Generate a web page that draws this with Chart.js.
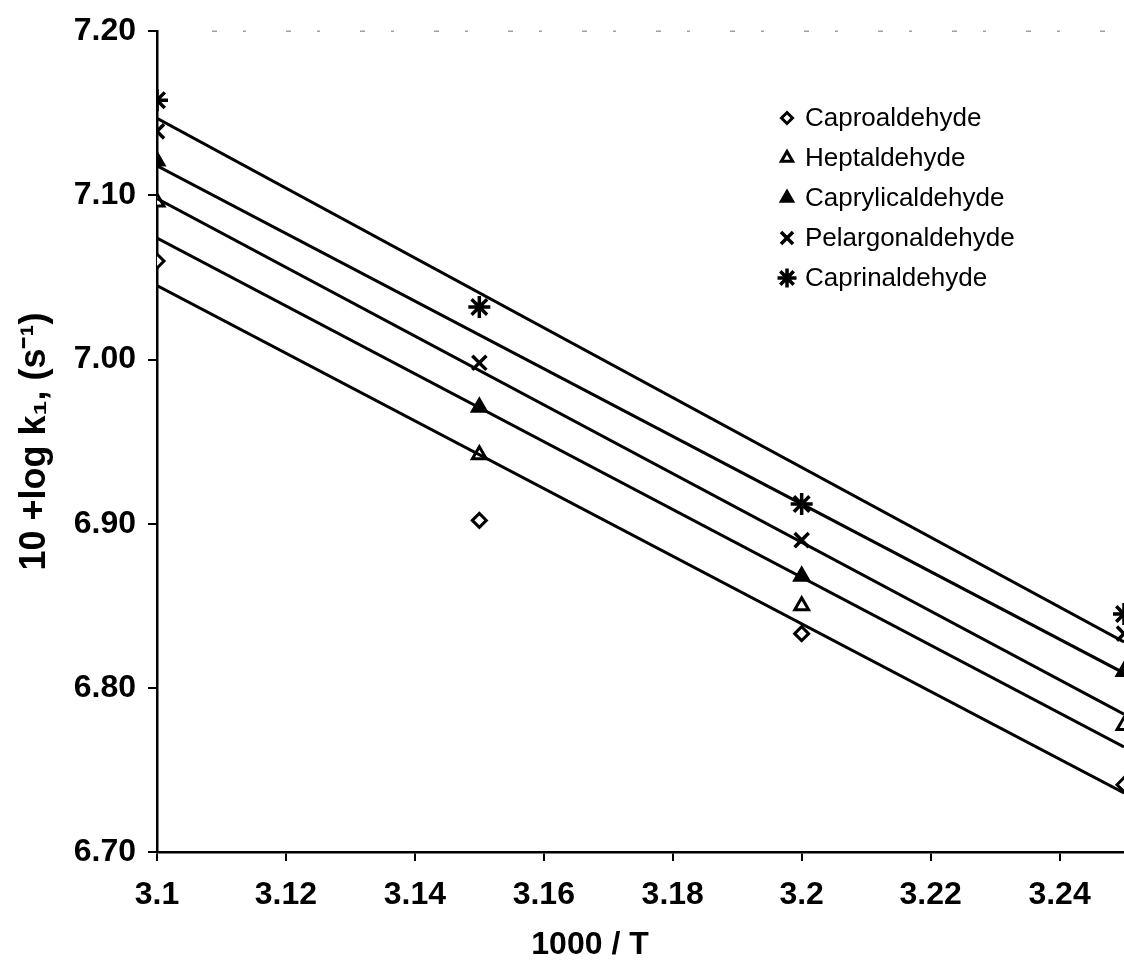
<!DOCTYPE html>
<html>
<head>
<meta charset="utf-8">
<script src="https://cdn.jsdelivr.net/npm/chart.js@4/dist/chart.umd.min.js"></script>
<style>
  html, body { margin: 0; padding: 0; background: #ffffff; }
  #wrap { position: relative; width: 1124px; height: 974px; }
  canvas { display: block; }
</style>
</head>
<body>
<div id="wrap"><canvas id="c" width="1124" height="974"></canvas></div>
<script>
// ---- data ----
const xValues = [3.10, 3.15, 3.20, 3.25];
const seriesNames = ["Caproaldehyde", "Heptaldehyde", "Caprylicaldehyde", "Pelargonaldehyde", "Caprinaldehyde"];
const caproaldehyde    = [7.060, 6.902, 6.833, 6.741];
const heptaldehyde     = [7.096, 6.942, 6.850, 6.777];
const caprylicaldehyde = [7.121, 6.971, 6.868, 6.810];
const pelargonaldehyde = [7.139, 6.998, 6.890, 6.833];
const caprinaldehyde   = [7.158, 7.032, 6.912, 6.845];

// straight fitted lines (end values read at 1000/T = 3.10 and 3.25)
const fitX = [3.10, 3.25];
const caproFit    = [7.045, 6.736];
const heptFit     = [7.074, 6.764];
const caprylFit   = [7.098, 6.784];
const pelargFit   = [7.118, 6.809];
const caprinFit   = [7.147, 6.828];

const xTicks = [3.10, 3.12, 3.14, 3.16, 3.18, 3.20, 3.22, 3.24];
const xTickLabels = ["3.1", "3.12", "3.14", "3.16", "3.18", "3.2", "3.22", "3.24"];
const yTicks = [6.70, 6.80, 6.90, 7.00, 7.10, 7.20];
const yTickLabels = ["6.70", "6.80", "6.90", "7.00", "7.10", "7.20"];
const xTitle = "1000 / T";
const yTitle = "10 +log k\u2081, (s\u207B\u00B9)";

// ---- styles ----
const FONT = "'Liberation Sans', Arial, Helvetica, sans-serif";
const markerStyles = [
  { pointStyle: 'rectRot',  radius: 7,  fill: '#ffffff', bw: 3 },
  { pointStyle: 'triangle', radius: 8,  fill: '#ffffff', bw: 3 },
  { pointStyle: 'triangle', radius: 8,  fill: '#000000', bw: 3 },
  { pointStyle: 'crossRot', radius: 10, fill: '#000000', bw: 3.5 },
  { pointStyle: 'star',     radius: 11, fill: '#000000', bw: 3.5 }
];
const seriesValues = [caproaldehyde, heptaldehyde, caprylicaldehyde, pelargonaldehyde, caprinaldehyde];
const fitValues = [caproFit, heptFit, caprylFit, pelargFit, caprinFit];

const datasets = [];
fitValues.forEach((vals, i) => {
  datasets.push({
    label: seriesNames[i] + ' fit',
    data: fitX.map((x, k) => ({ x: x, y: vals[k] })),
    showLine: true,
    borderColor: '#000000',
    borderWidth: 3,
    pointRadius: 0,
    fill: false
  });
});
seriesValues.forEach((vals, i) => {
  const m = markerStyles[i];
  datasets.push({
    label: seriesNames[i],
    data: xValues.map((x, k) => ({ x: x, y: vals[k] })),
    showLine: false,
    pointStyle: m.pointStyle,
    pointRadius: m.radius,
    pointHoverRadius: m.radius,
    pointBackgroundColor: m.fill,
    pointBorderColor: '#000000',
    pointBorderWidth: m.bw
  });
});

// legend drawn inside the plot area + top frame remnants + x title
const extrasPlugin = {
  id: 'extras',
  afterDraw(chart) {
    const ctx = chart.ctx;
    const area = chart.chartArea;
    ctx.save();
    // faint broken top frame line
    ctx.strokeStyle = '#a0a0a0';
    ctx.lineWidth = 1.5;
    ctx.setLineDash([5, 26, 3, 40]);
    ctx.beginPath();
    ctx.moveTo(area.left + 55, area.top);
    ctx.lineTo(area.right, area.top);
    ctx.stroke();
    ctx.setLineDash([]);

    // legend
    const lx = 787, tx = 805, y0 = 118, dy = 40;
    ctx.font = "26px " + FONT;
    ctx.textAlign = 'left';
    ctx.textBaseline = 'middle';
    seriesNames.forEach((name, i) => {
      const m = markerStyles[i];
      const y = y0 + i * dy;
      const opts = { pointStyle: m.pointStyle, radius: m.radius - 1.5, borderWidth: m.bw, rotation: 0 };
      ctx.fillStyle = m.fill;
      ctx.strokeStyle = '#000000';
      ctx.lineWidth = m.bw;
      if (Chart.helpers && Chart.helpers.drawPoint) {
        Chart.helpers.drawPoint(ctx, opts, lx, y);
      }
      ctx.fillStyle = '#000000';
      ctx.fillText(name, tx, y + 1);
    });

    // x axis title
    ctx.font = "bold 32px " + FONT;
    ctx.textAlign = 'center';
    ctx.textBaseline = 'middle';
    ctx.fillText(xTitle, 590, 945);
    ctx.restore();
  }
};

new Chart(document.getElementById('c'), {
  type: 'scatter',
  data: { datasets: datasets },
  plugins: [extrasPlugin],
  options: {
    responsive: false,
    animation: false,
    devicePixelRatio: 1,
    layout: { autoPadding: false, padding: { top: 27, right: 0, left: 0, bottom: 0 } },
    plugins: {
      legend: { display: false },
      tooltip: { enabled: false }
    },
    scales: {
      x: {
        type: 'linear',
        min: 3.10,
        max: 3.25,
        afterBuildTicks: (scale) => { scale.ticks = xTicks.map(v => ({ value: v })); },
        afterFit: (scale) => { scale.height = 122; scale.paddingRight = 0; },
        ticks: {
          autoSkip: false,
          maxRotation: 0,
          padding: 15,
          color: '#000000',
          font: { family: FONT, size: 32, weight: 'bold' },
          callback: (value, index) => xTickLabels[index]
        },
        grid: { display: true, drawOnChartArea: false, drawTicks: true, tickLength: 9, color: '#000000', lineWidth: 2 },
        border: { display: true, color: '#000000', width: 2.5 },
        title: { display: false }
      },
      y: {
        type: 'linear',
        min: 6.70,
        max: 7.20,
        afterBuildTicks: (scale) => { scale.ticks = yTicks.map(v => ({ value: v })); },
        afterFit: (scale) => { scale.width = 157; },
        ticks: {
          padding: 12,
          color: '#000000',
          font: { family: FONT, size: 32, weight: 'bold' },
          callback: (value, index) => yTickLabels[index]
        },
        grid: { display: true, drawOnChartArea: false, drawTicks: true, tickLength: 9, color: '#000000', lineWidth: 2 },
        border: { display: true, color: '#000000', width: 2.5 },
        title: {
          display: true,
          text: yTitle,
          color: '#000000',
          font: { family: FONT, size: 36, weight: 'bold' },
          padding: { top: 13, bottom: 0 }
        }
      }
    }
  }
});
</script>
</body>
</html>
